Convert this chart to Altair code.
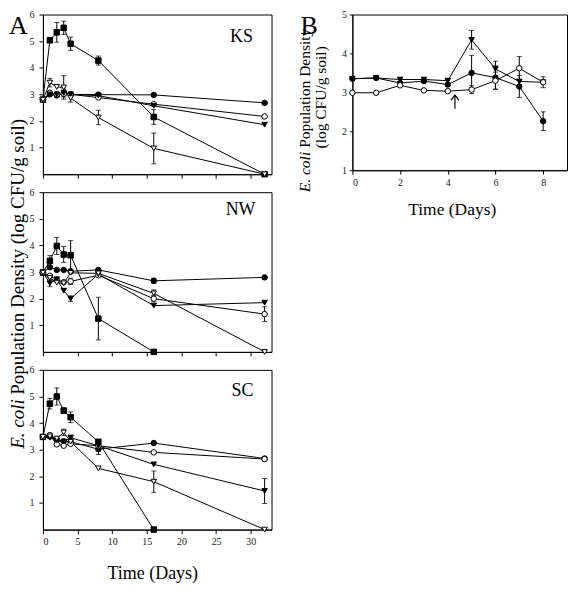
import altair as alt
import pandas as pd

# ---------------- data ----------------
DAYS_A = [0, 1, 2, 3, 4, 8, 16, 32]
DAYS_A_SHORT = [0, 1, 2, 3, 4, 8, 16]
DAYS_B = [0, 1, 2, 3, 4, 5, 6, 7, 8]

SERIES = ["sq", "fc", "oc", "ft", "ot"]
SHAPES = ["square", "circle", "circle", "triangle-down", "triangle-down"]
FILLS = ["black", "black", "white", "black", "white"]

# KS
ks_sq = [2.8, 5.03, 5.33, 5.5, 4.9, 4.27, 2.15, 0.0]
ks_sq_err = [0, 0, 0.37, 0.25, 0.25, 0.17, 0.28, 0]
ks_fc = [2.8, 3.0, 2.96, 3.02, 3.0, 2.99, 2.98, 2.68]
ks_fc_err = [0, 0, 0, 0, 0, 0, 0, 0]
ks_oc = [2.8, 3.06, 3.0, 3.02, 3.0, 2.88, 2.63, 2.17]
ks_oc_err = [0, 0, 0, 0, 0, 0, 0, 0]
ks_ft = [2.8, 3.0, 3.0, 3.05, 3.0, 2.95, 2.57, 1.86]
ks_ft_err = [0, 0, 0, 0.15, 0, 0, 0, 0]
ks_ot = [2.8, 3.44, 3.28, 3.26, 2.86, 2.13, 0.97, 0.0]
ks_ot_err = [0, 0.16, 0, 0.44, 0.15, 0.27, 0.58, 0]

# NW
nw_sq = [2.98, 3.42, 3.98, 3.66, 3.63, 1.25, 0.0]
nw_sq_err = [0, 0.2, 0.32, 0.3, 0.55, 0.8, 0]
nw_fc = [2.98, 3.18, 3.08, 3.08, 3.03, 3.08, 2.67, 2.8]
nw_fc_err = [0, 0, 0, 0, 0, 0, 0.1, 0]
nw_oc = [2.98, 2.86, 2.7, 2.62, 2.65, 2.88, 2.0, 1.42]
nw_oc_err = [0, 0, 0, 0, 0.12, 0, 0.12, 0.28]
nw_ft = [2.98, 2.58, 2.73, 2.3, 2.0, 2.92, 1.74, 1.85]
nw_ft_err = [0, 0.13, 0, 0, 0.1, 0, 0, 0]
nw_ot = [2.98, 2.78, 2.6, 2.58, 2.97, 2.95, 2.2, 0.0]
nw_ot_err = [0, 0, 0, 0, 0, 0, 0.13, 0]

# SC
sc_sq = [3.48, 4.73, 5.0, 4.47, 4.22, 3.3, 0.0]
sc_sq_err = [0, 0.2, 0.32, 0.1, 0.2, 0, 0]
sc_fc = [3.48, 3.5, 3.35, 3.32, 3.3, 3.02, 3.25, 2.67]
sc_fc_err = [0, 0, 0, 0, 0, 0.2, 0, 0]
sc_oc = [3.48, 3.55, 3.2, 3.15, 3.22, 3.15, 2.9, 2.65]
sc_oc_err = [0, 0, 0, 0, 0, 0, 0, 0]
sc_ft = [3.48, 3.45, 3.35, 3.3, 3.45, 3.15, 2.45, 1.45]
sc_ft_err = [0, 0, 0, 0, 0.1, 0, 0, 0.47]
sc_ot = [3.48, 3.5, 3.42, 3.65, 3.3, 2.3, 1.8, 0.0]
sc_ot_err = [0, 0, 0, 0.12, 0, 0, 0.4, 0]

# B
b_fc = [3.35, 3.37, 3.24, 3.29, 3.2, 3.5, 3.38, 3.15, 2.26]
b_fc_err = [0, 0, 0, 0, 0, 0.45, 0.3, 0.28, 0.24]
b_ft = [3.35, 3.37, 3.33, 3.33, 3.3, 4.35, 3.6, 3.28, 3.26]
b_ft_err = [0, 0, 0.05, 0, 0, 0.24, 0.2, 0, 0.14]
b_oc = [2.99, 2.99, 3.18, 3.05, 3.03, 3.07, 3.3, 3.62, 3.26]
b_oc_err = [0, 0, 0, 0, 0, 0.1, 0.22, 0.3, 0]
arrow_day = [4.3]
arrow_lo = [2.58]
arrow_hi = [2.93]

FONT = "Liberation Serif"


def to_df(entries):
    rows = []
    for name, days, vals, errs in entries:
        for d, v, e in zip(days, vals, errs):
            rows.append({"series": name, "day": d, "value": v, "err": e,
                         "lo": v - e, "hi": v + e})
    return pd.DataFrame(rows)


def txt(text, x, y, size, **kw):
    return alt.Chart(pd.DataFrame({"t": [text]})).mark_text(
        font=FONT, fontSize=size, color="black", fontWeight="normal", **kw
    ).encode(x=alt.value(x), y=alt.value(y), text="t:N")


def axes(xvals, yvals, show_x_labels, ytick, ypad):
    xax = alt.Axis(values=xvals, labels=show_x_labels, title=None, grid=False,
                   tickSize=4, labelPadding=3, format="d", labelFont=FONT,
                   labelFontSize=10, labelColor="#222")
    yax = alt.Axis(values=yvals, title=None, grid=False, tickSize=ytick,
                   labelPadding=ypad, format="d", labelFont=FONT,
                   labelFontSize=10, labelColor="#222", labelOverlap=False)
    return xax, yax


def panel(df, xdom, ydom, xvals, yvals, show_x_labels, w, h, ytick, ypad, extras):
    xs = alt.Scale(domain=xdom, nice=False, zero=False)
    ys = alt.Scale(domain=ydom, nice=False, zero=False)
    xax, yax = axes(xvals, yvals, show_x_labels, ytick, ypad)
    base = alt.Chart(df)
    lines = base.mark_line(color="black", strokeWidth=1).encode(
        x=alt.X("day:Q", scale=xs, axis=xax),
        y=alt.Y("value:Q", scale=ys, axis=yax),
        detail="series:N",
        order="day:Q",
    )
    errs = alt.Chart(df[df["err"] > 0]).mark_errorbar(
        color="black", thickness=1, ticks={"size": 5}
    ).encode(
        x=alt.X("day:Q", scale=xs, axis=xax),
        y=alt.Y("lo:Q", scale=ys, axis=yax),
        y2="hi:Q",
    )
    pts = base.mark_point(size=30, stroke="black", strokeWidth=1, opacity=1).encode(
        x=alt.X("day:Q", scale=xs, axis=xax),
        y=alt.Y("value:Q", scale=ys, axis=yax),
        shape=alt.Shape("series:N", scale=alt.Scale(domain=SERIES, range=SHAPES), legend=None),
        fill=alt.Fill("series:N", scale=alt.Scale(domain=SERIES, range=FILLS), legend=None),
    )
    return alt.layer(lines, errs, pts, *extras).properties(width=w, height=h)


ks_df = to_df([
    ("sq", DAYS_A, ks_sq, ks_sq_err), ("fc", DAYS_A, ks_fc, ks_fc_err),
    ("oc", DAYS_A, ks_oc, ks_oc_err), ("ft", DAYS_A, ks_ft, ks_ft_err),
    ("ot", DAYS_A, ks_ot, ks_ot_err)])
nw_df = to_df([
    ("sq", DAYS_A_SHORT, nw_sq, nw_sq_err), ("fc", DAYS_A, nw_fc, nw_fc_err),
    ("oc", DAYS_A, nw_oc, nw_oc_err), ("ft", DAYS_A, nw_ft, nw_ft_err),
    ("ot", DAYS_A, nw_ot, nw_ot_err)])
sc_df = to_df([
    ("sq", DAYS_A_SHORT, sc_sq, sc_sq_err), ("fc", DAYS_A, sc_fc, sc_fc_err),
    ("oc", DAYS_A, sc_oc, sc_oc_err), ("ft", DAYS_A, sc_ft, sc_ft_err),
    ("ot", DAYS_A, sc_ot, sc_ot_err)])
b_df = to_df([
    ("fc", DAYS_B, b_fc, b_fc_err), ("ft", DAYS_B, b_ft, b_ft_err),
    ("oc", DAYS_B, b_oc, b_oc_err)])

XA = [0, 33]
YA = [0, 6]
XA_T = [0, 5, 10, 15, 20, 25, 30]
YA_T = [1, 2, 3, 4, 5, 6]
PH = 160  # panel height (A)

ks_extras = [
    txt("KS", 199, 22.5, 18, align="center", baseline="middle"),
    txt("A", -34, -1.5, 26, align="left", baseline="top"),
    txt("E. coli", -25, 435, 19, align="left", baseline="middle", angle=270, fontStyle="italic"),
    txt("Population Density (log CFU/g soil)", -25, 381, 19, align="left",
        baseline="middle", angle=270),
]
nw_extras = [txt("NW", 198, 18, 18, align="center", baseline="middle")]
sc_extras = [
    txt("SC", 200, 21, 18, align="center", baseline="middle"),
    txt("Time (Days)", 110, 205, 18, align="center", baseline="middle"),
]

ks = panel(ks_df, XA, YA, XA_T, YA_T, False, 229, PH, 4, 5, ks_extras)
nw = panel(nw_df, XA, YA, XA_T, YA_T, False, 229, PH, 4, 5, nw_extras)
sc = panel(sc_df, XA, YA, XA_T, YA_T, True, 229, PH, 4, 5, sc_extras)

xsB = alt.Scale(domain=[0, 9], nice=False, zero=False)
ysB = alt.Scale(domain=[1, 5], nice=False, zero=False)
xaxB, yaxB = axes([0, 2, 4, 6, 8], [1, 2, 3, 4, 5], True, 3, 3)
arrow_df = pd.DataFrame({"day": arrow_day, "lo": arrow_lo, "hi": arrow_hi})
arrow_shaft = alt.Chart(arrow_df).mark_rule(color="black", strokeWidth=1.2).encode(
    x=alt.X("day:Q", scale=xsB, axis=xaxB),
    y=alt.Y("lo:Q", scale=ysB, axis=yaxB), y2="hi:Q")
arrow_head = alt.Chart(arrow_df).mark_point(
    shape="M-1,1.3L0,0L1,1.3", filled=False, color="black", strokeWidth=1.2,
    size=64, opacity=1
).encode(x=alt.X("day:Q", scale=xsB, axis=xaxB),
         y=alt.Y("hi:Q", scale=ysB, axis=yaxB))

b_extras = [
    arrow_shaft, arrow_head,
    txt("B", -52, -1.5, 26, align="left", baseline="top"),
    txt("E. coli", -47, 178, 15.5, align="left", baseline="middle", angle=270, fontStyle="italic"),
    txt("Population Density", -47, 133.5, 15.5, align="left", baseline="middle", angle=270),
    txt("(log CFU/g soil)", -31, 83, 15.5, align="center", baseline="middle", angle=270),
    txt("Time (Days)", 100, 196, 17.5, align="center", baseline="middle"),
]
b = panel(b_df, [0, 9], [1, 5], [0, 2, 4, 6, 8], [1, 2, 3, 4, 5], True, 215, 156, 3, 3, b_extras)

filler = alt.Chart(pd.DataFrame({"v": [0]})).mark_point(opacity=0).encode(
    x=alt.value(0), y=alt.value(0)
).properties(width=1, height=1, view=alt.ViewBackground(stroke="transparent"))

chart = alt.concat(
    ks, b, nw, filler, sc, columns=2,
    spacing={"row": 18, "column": 81}, bounds="flush",
).properties(padding=0).configure_view(
    stroke="black", strokeWidth=1
).configure_axis(
    labelFont=FONT, labelFontSize=10, labelColor="#222",
    domainColor="black", tickColor="black", grid=False,
).configure_text(font=FONT)

chart.save("out.html", embed_options={"renderer": "svg", "actions": False})
